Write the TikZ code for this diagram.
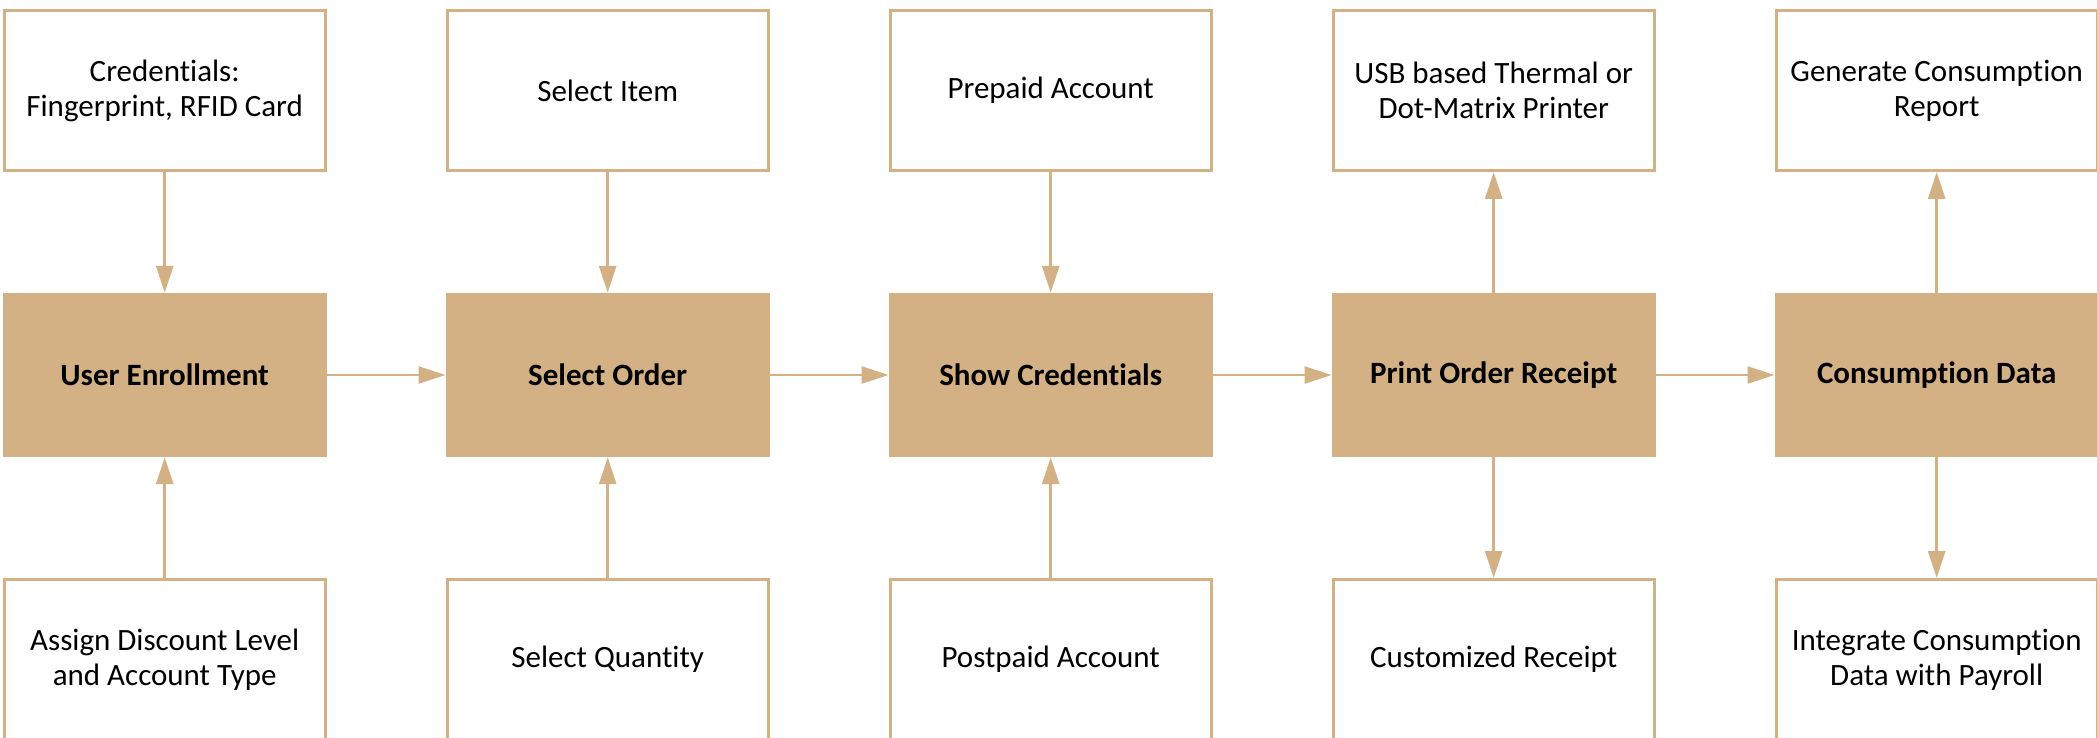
\documentclass[tikz,border=0pt]{standalone}
\usepackage{fontspec}
\setmainfont{Carlito}[Ligatures=NoCommon]
\usetikzlibrary{arrows.meta}
\definecolor{tan}{RGB}{212,177,132}
\tikzset{
  x=1pt,y=-1pt,
  inbox/.style={draw=tan,line width=3pt,fill=white,minimum width=321pt,minimum height=160pt,inner sep=0pt,align=center,font=\fontsize{31}{35}\selectfont},
  mainbox/.style={fill=tan,draw=none,minimum width=324pt,minimum height=164pt,inner sep=0pt,align=center,font=\fontsize{31}{35}\selectfont\bfseries},
  conn/.style={draw=tan,line width=2.8pt,-{Triangle[length=27pt,width=17pt]}}
}
\begin{document}
\begin{tikzpicture}
\useasboundingbox (0,0) rectangle (2097,738);
% main row
\node[mainbox] (m1) at (164.7,375) {User Enrollment};
\node[mainbox] (m2) at (607.7,375) {Select Order};
\node[mainbox] (m3) at (1050.7,375) {Show Credentials};
\node[mainbox] (m4) at (1493.7,375) {Print Order Receipt};
\node[mainbox] (m5) at (1936.7,375) {Consumption Data};
% top row
\node[inbox] (t1) at (164.7,90.5) {Credentials:\\Fingerprint, RFID Card};
\node[inbox] (t2) at (607.7,90.5) {Select Item};
\node[inbox] (t3) at (1050.7,90.5) {Prepaid Account};
\node[inbox] (t4) at (1493.7,90.5) {USB based Thermal or\\Dot-Matrix Printer};
\node[inbox] (t5) at (1936.7,90.5) {Generate Consumption\\Report};
% bottom row
\node[inbox] (b1) at (164.7,659.5) {Assign Discount Level\\and Account Type};
\node[inbox] (b2) at (607.7,659.5) {Select Quantity};
\node[inbox] (b3) at (1050.7,659.5) {Postpaid Account};
\node[inbox] (b4) at (1493.7,659.5) {Customized Receipt};
\node[inbox] (b5) at (1936.7,659.5) {Integrate Consumption\\Data with Payroll};
% horizontal
\draw[conn] (m1) -- (m2);
\draw[conn] (m2) -- (m3);
\draw[conn] (m3) -- (m4);
\draw[conn] (m4) -- (m5);
% vertical into main
\draw[conn] (t1) -- (m1);
\draw[conn] (t2) -- (m2);
\draw[conn] (t3) -- (m3);
\draw[conn] (b1) -- (m1);
\draw[conn] (b2) -- (m2);
\draw[conn] (b3) -- (m3);
% vertical out of main
\draw[conn] (m4) -- (t4);
\draw[conn] (m4) -- (b4);
\draw[conn] (m5) -- (t5);
\draw[conn] (m5) -- (b5);
\end{tikzpicture}
\end{document}
